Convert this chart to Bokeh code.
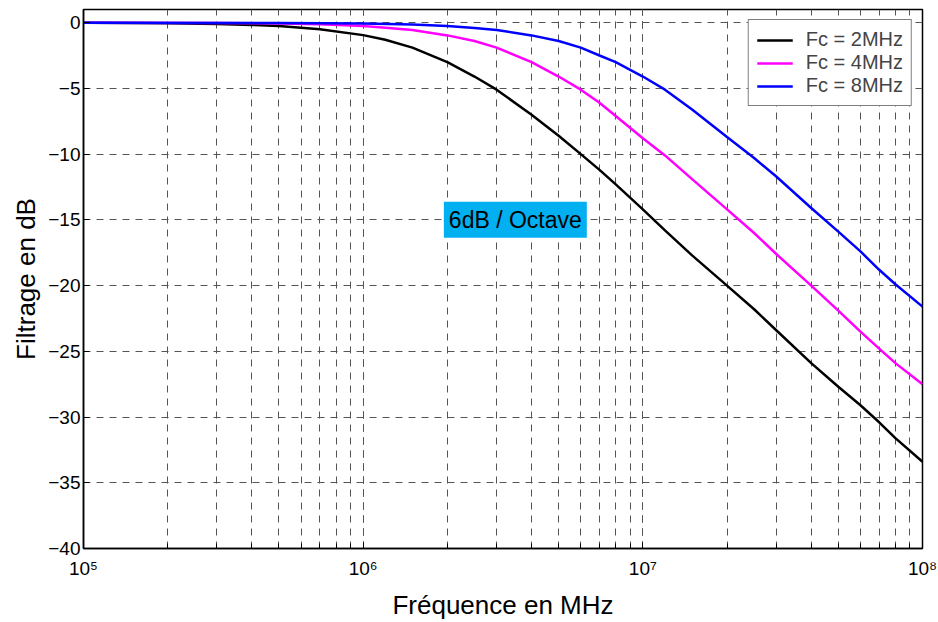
from bokeh.plotting import figure
from bokeh.models import (Range1d, FixedTicker, LogTicker, CustomJSTickFormatter,
                          Label, Legend, LegendItem)
from bokeh.embed import file_html
from bokeh.resources import INLINE

# Frequencies (Hz) and attenuation (dB)
freq_2 = [1e5, 1.5e5, 2e5, 3e5, 4e5, 5e5, 7e5, 1e6, 1.2e6, 1.5e6, 2e6, 2.5e6, 3e6, 4e6,
          5e6, 6e6, 7e6, 8e6, 1e7, 1.2e7, 1.5e7, 2e7, 2.5e7, 3e7, 4e7, 5e7, 6e7, 7e7,
          8e7, 1e8]
db_2 = [0.0, -0.02, -0.05, -0.1, -0.17, -0.25, -0.5, -0.95, -1.3, -1.9, -3.0, -4.1,
        -5.1, -7.0, -8.6, -10.0, -11.2, -12.3, -14.2, -15.8, -17.7, -20.0, -21.8,
        -23.4, -25.9, -27.7, -29.1, -30.4, -31.6, -33.4]

freq_4 = [1e5, 3e5, 5e5, 7e5, 1e6, 1.2e6, 1.5e6, 2e6, 2.5e6, 3e6, 4e6, 5e6, 6e6, 7e6,
          8e6, 1e7, 1.2e7, 1.5e7, 2e7, 2.5e7, 3e7, 4e7, 5e7, 6e7, 7e7, 8e7, 1e8]
db_4 = [0.0, -0.02, -0.07, -0.13, -0.26, -0.38, -0.56, -0.97, -1.4, -1.9, -3.0, -4.1,
        -5.1, -6.1, -7.1, -8.8, -10.1, -11.9, -14.2, -16.0, -17.6, -20.0, -21.9,
        -23.5, -24.8, -25.9, -27.5]

freq_8 = [1e5, 5e5, 1e6, 1.5e6, 2e6, 2.5e6, 3e6, 4e6, 5e6, 6e6, 7e6, 8e6,
          1e7, 1.2e7, 1.5e7, 2e7, 2.5e7, 3e7, 4e7, 5e7, 6e7, 7e7, 8e7, 1e8]
db_8 = [0.0, -0.02, -0.07, -0.15, -0.26, -0.4, -0.56, -0.97, -1.4, -1.9, -2.5, -3.0,
        -4.1, -5.1, -6.6, -8.7, -10.3, -11.7, -14.1, -15.9, -17.4, -18.8, -19.9, -21.6]

series_labels = ["Fc = 2MHz", "Fc = 4MHz", "Fc = 8MHz"]
series_colors = ["#000000", "#FF00FF", "#0000FF"]
y_ticks = [-40, -35, -30, -25, -20, -15, -10, -5, 0]

annot_text = "6dB / Octave"
annot_x, annot_y = 3.5e6, -15

FONT = "Liberation Sans"

p = figure(width=938, height=622, x_axis_type="log",
           x_range=Range1d(1e5, 1e8), y_range=Range1d(-40, 1),
           output_backend="svg", toolbar_location=None,
           min_border_left=83, min_border_right=16, min_border_top=9, min_border_bottom=73,
           x_axis_label="Fréquence en MHz", y_axis_label="Filtrage en dB")

p.outline_line_color = "black"
p.outline_line_width = 1.5
p.background_fill_color = "white"

renderers = []
for fx, fy, c in zip([freq_2, freq_4, freq_8], [db_2, db_4, db_8], series_colors):
    r = p.line(fx, fy, line_color=c, line_width=2.5)
    renderers.append(r)

legend = Legend(items=[LegendItem(label=l, renderers=[r]) for l, r in zip(series_labels, renderers)],
                location="top_right")
legend.label_text_font = FONT
legend.label_text_font_size = "20px"
legend.border_line_color = "black"
legend.border_line_width = 1.2
legend.glyph_width = 36
legend.spacing = 0
legend.padding = 8
legend.margin = 10
legend.label_height = 22
legend.glyph_height = 22
legend.label_standoff = 13
legend.background_fill_alpha = 1
p.add_layout(legend)

# axes
p.xaxis.ticker = LogTicker(num_minor_ticks=10)
p.xaxis.formatter = CustomJSTickFormatter(code="""
const sup = {'0':'⁰','1':'¹','2':'²','3':'³','4':'⁴','5':'⁵','6':'⁶','7':'⁷','8':'⁸','9':'⁹','-':'⁻'};
const e = Math.round(Math.log10(tick));
return '10' + String(e).split('').map(c => sup[c]).join('');
""")
p.yaxis.ticker = FixedTicker(ticks=y_ticks)

for ax in [p.xaxis, p.yaxis]:
    ax.axis_line_color = "black"
    ax.axis_line_width = 1.5
    ax.major_tick_in = 6
    ax.major_tick_out = 0
    ax.minor_tick_in = 5
    ax.minor_tick_out = 0
    ax.major_tick_line_color = "black"
    ax.minor_tick_line_color = "black"
    ax.major_label_text_font = FONT
    ax.major_label_text_font_size = "19px"
    ax.major_label_text_color = "black"
    ax.axis_label_text_font = FONT
    ax.axis_label_text_font_style = "normal"
    ax.axis_label_text_font_size = "26px"
    ax.axis_label_text_color = "black"
p.yaxis.minor_tick_line_color = None
p.yaxis.axis_label_standoff = 4
p.xaxis.axis_label_standoff = 8
p.xaxis.major_label_standoff = 9
p.yaxis.major_label_standoff = 3

for g in [p.xgrid, p.ygrid]:
    g.grid_line_color = "#555555"
    g.grid_line_dash = "7 6"
    g.grid_line_width = 1
p.xgrid.minor_grid_line_color = "#555555"
p.xgrid.minor_grid_line_dash = "7 6"
p.xgrid.minor_grid_line_width = 1

lab = Label(x=annot_x, y=annot_y, text=annot_text, text_align="center", text_baseline="middle",
            text_font=FONT, text_font_size="23px", text_color="black",
            background_fill_color="#00B0F0", padding=5)
p.add_layout(lab)

open("out.html", "w").write(file_html(p, INLINE))
